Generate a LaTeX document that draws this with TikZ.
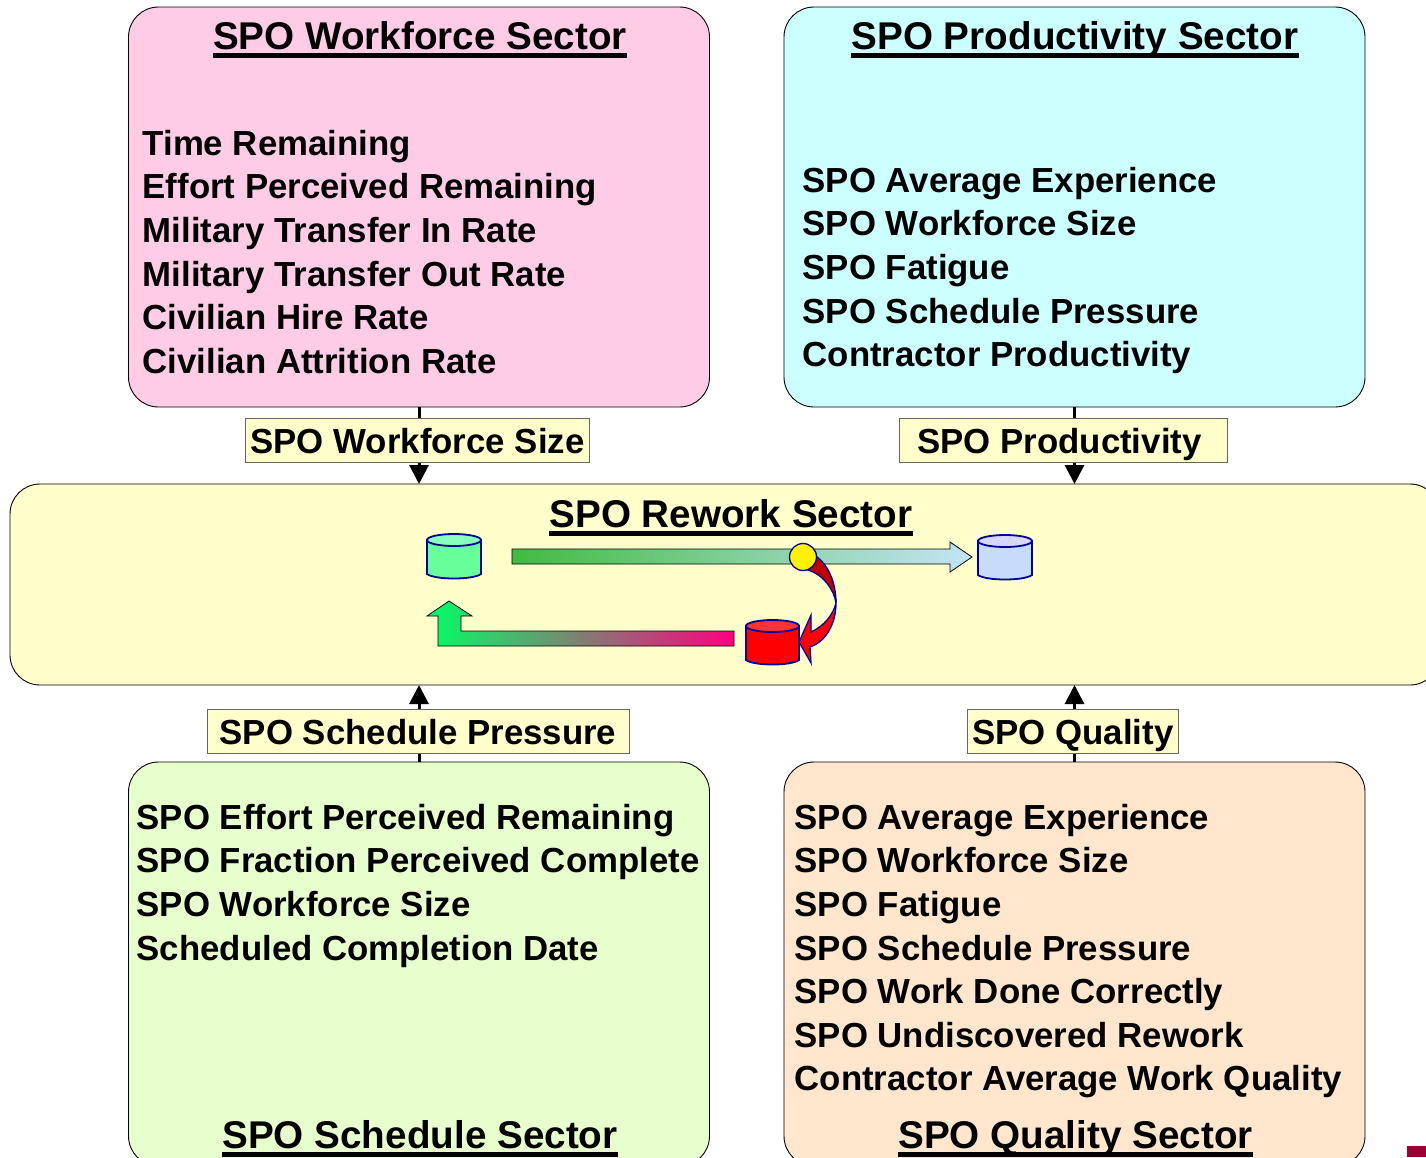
\documentclass[tikz,border=0pt]{standalone}
\usepackage{fontspec}
\setmainfont{Liberation Sans}
\usetikzlibrary{arrows.meta}
\definecolor{pinkbox}{HTML}{FFCCE6}
\definecolor{cyanbox}{HTML}{CCFFFF}
\definecolor{yellowbox}{HTML}{FFFFCC}
\definecolor{greenbox}{HTML}{E6FFCC}
\definecolor{peachbox}{HTML}{FFE6CC}
\definecolor{cylblue}{HTML}{000099}
\definecolor{maroon}{HTML}{990033}
\definecolor{gtop}{HTML}{40BB40}
\definecolor{gtopend}{HTML}{C4E4F6}
\definecolor{gbot}{HTML}{00FF66}
\definecolor{gbotend}{HTML}{FF0080}
\definecolor{cylgreen}{HTML}{66FF99}
\definecolor{cylgreentop}{HTML}{88FFBB}
\definecolor{cylred}{HTML}{FF0000}
\definecolor{cylredtop}{HTML}{FF3333}
\definecolor{cylice}{HTML}{C6DCFA}
\definecolor{cylicetop}{HTML}{D6D6FF}
\definecolor{darkred}{HTML}{C00000}
\newcommand{\cyl}[6]{% x1, x2, ytop, ybottom, body, top
  \draw[cylblue,line width=1.8pt,fill=#5] (#1,#3+6) -- (#1,#4-5) .. controls (#1+8,#4+1) and (#2-8,#4+1) .. (#2,#4-5) -- (#2,#3+6) -- cycle;
  \draw[cylblue,line width=1.8pt,fill=#6] ({(#1+#2)/2},#3+6) ellipse [x radius={(#2-#1)/2},y radius=6];
}
\tikzset{
  x=1pt,y=-1pt,
  sectorbox/.style={draw=black,line width=0.9pt,rounded corners=30pt,minimum width=581pt,anchor=north west,inner sep=0pt,outer sep=0pt},
  title/.style={font=\fontsize{38.65}{44}\selectfont\bfseries,anchor=base,inner sep=0pt},
  titleline/.style={line width=4.5pt},
  items/.style={font=\fontsize{34.8}{43.55}\selectfont\bfseries,align=left,anchor=north west,inner sep=0pt},
  flowlabel/.style={draw=black!60,line width=0.9pt,fill=yellowbox,font=\fontsize{34.8}{40}\selectfont\bfseries,inner xsep=0pt,inner ysep=0pt,text height=31pt,text depth=4pt,minimum height=44pt},
  flow/.style={line width=3pt,-{Triangle[width=19pt,length=19pt]}},
}
\begin{document}
\begin{tikzpicture}
\useasboundingbox (0,0) rectangle (1426,1157);
\clip (0,0) rectangle (1426,1157);
\fill[white] (0,0) rectangle (1426,1157);
% sector boxes
\node[sectorbox,fill=pinkbox,minimum height=400pt] (wf) at (128.5,7) {};
\node[sectorbox,fill=cyanbox,minimum height=400pt] (pr) at (784,7) {};
\node[sectorbox,fill=greenbox,minimum height=404pt] (sc) at (128.5,762) {};
\node[sectorbox,fill=peachbox,minimum height=404pt] (qu) at (784,762) {};
\node[sectorbox,fill=yellowbox,minimum width=1430pt,minimum height=201pt] (re) at (10,484) {};
% connectors
\draw[flow] (wf.south) -- (wf.south |- re.north);
\draw[flow] (pr.south) -- (pr.south |- re.north);
\draw[flow] (sc.north) -- (sc.north |- re.south);
\draw[flow] (qu.north) -- (qu.north |- re.south);
% labels on connectors
\node[flowlabel,minimum width=344pt] (l1) at (417.5,440) {SPO Workforce Size};
\node[flowlabel,minimum width=328pt] (l2) at (1063,440) {\hspace*{-7pt}SPO Productivity};
\node[flowlabel,minimum width=422pt] (l3) at (418,731) {SPO Schedule Pressure};
\node[flowlabel,minimum width=211pt] (l4) at (1073,731) {SPO Quality};
% titles
\node[title] (t1) at (420,49) {SPO Workforce Sector};
\node[title] (t2) at (1075,49) {SPO Productivity Sector};
\node[title] (t3) at (731,527) {SPO Rework Sector};
\node[title] (t4) at (420,1148) {SPO Schedule Sector};
\node[title] (t5) at (1075.5,1148) {SPO Quality Sector};
\foreach \t in {t1,t2,t3,t4,t5}
  \draw[titleline] ([yshift=-6.5pt]\t.base west) -- ([yshift=-6.5pt]\t.base east);
% item lists
\node[items] (i1) at (142.5,130) {Time Remaining\\Effort Perceived Remaining\\Military Transfer In Rate\\Military Transfer Out Rate\\Civilian Hire Rate\\Civilian Attrition Rate};
\node[items] (i2) at (802.5,167) {SPO Average Experience\\SPO Workforce Size\\SPO Fatigue\\SPO Schedule Pressure\\Contractor Productivity};
\node[items] (i3) at (136.5,804) {SPO Effort Perceived Remaining\\SPO Fraction Perceived Complete\\SPO Workforce Size\\Scheduled Completion Date};
\node[items] (i4) at (794.5,804) {SPO Average Experience\\SPO Workforce Size\\SPO Fatigue\\SPO Schedule Pressure\\SPO Work Done Correctly\\SPO Undiscovered Rework\\Contractor Average Work Quality};
% rework graphic
\cyl{427}{481}{534}{579}{cylgreen}{cylgreentop}
\cyl{746}{799}{620}{665}{cylred}{cylredtop}
\cyl{978}{1032}{535}{580}{cylice}{cylicetop}
\shade[left color=gtop,right color=gtopend,draw=black,line width=0.8pt]
  (512,549) -- (950,549) -- (950,542) -- (972,557) -- (950,572) -- (950,564) -- (512,564) -- cycle;
\shade[left color=gbot,right color=gbotend,draw=black,line width=0.8pt]
  (449,601) -- (472,616) -- (461,616) -- (461,631) -- (734,631) -- (734,646) -- (438,646) -- (438,616) -- (427,616) -- cycle;
\fill[darkred,draw=cylblue,line width=1.3pt]
  (817,557) .. controls (828,565) and (836,582) .. (836,603) .. controls (834,590) and (824,575) .. (808,570) -- cycle;
\fill[cylred,draw=cylblue,line width=1.3pt]
  (836,603) .. controls (836,625) and (825,642) .. (810,647) -- (811,663) -- (799,642) -- (811,615) -- (811,632) .. controls (824,626) and (833,615) .. (836,603) -- cycle;
\node[circle,draw=cylblue,fill=yellow,line width=1.3pt,minimum size=27pt,inner sep=0pt] (junction) at (803,557) {};
% corner mark
\fill[maroon] (1407,1146) rectangle (1426,1157);
\end{tikzpicture}
\end{document}
